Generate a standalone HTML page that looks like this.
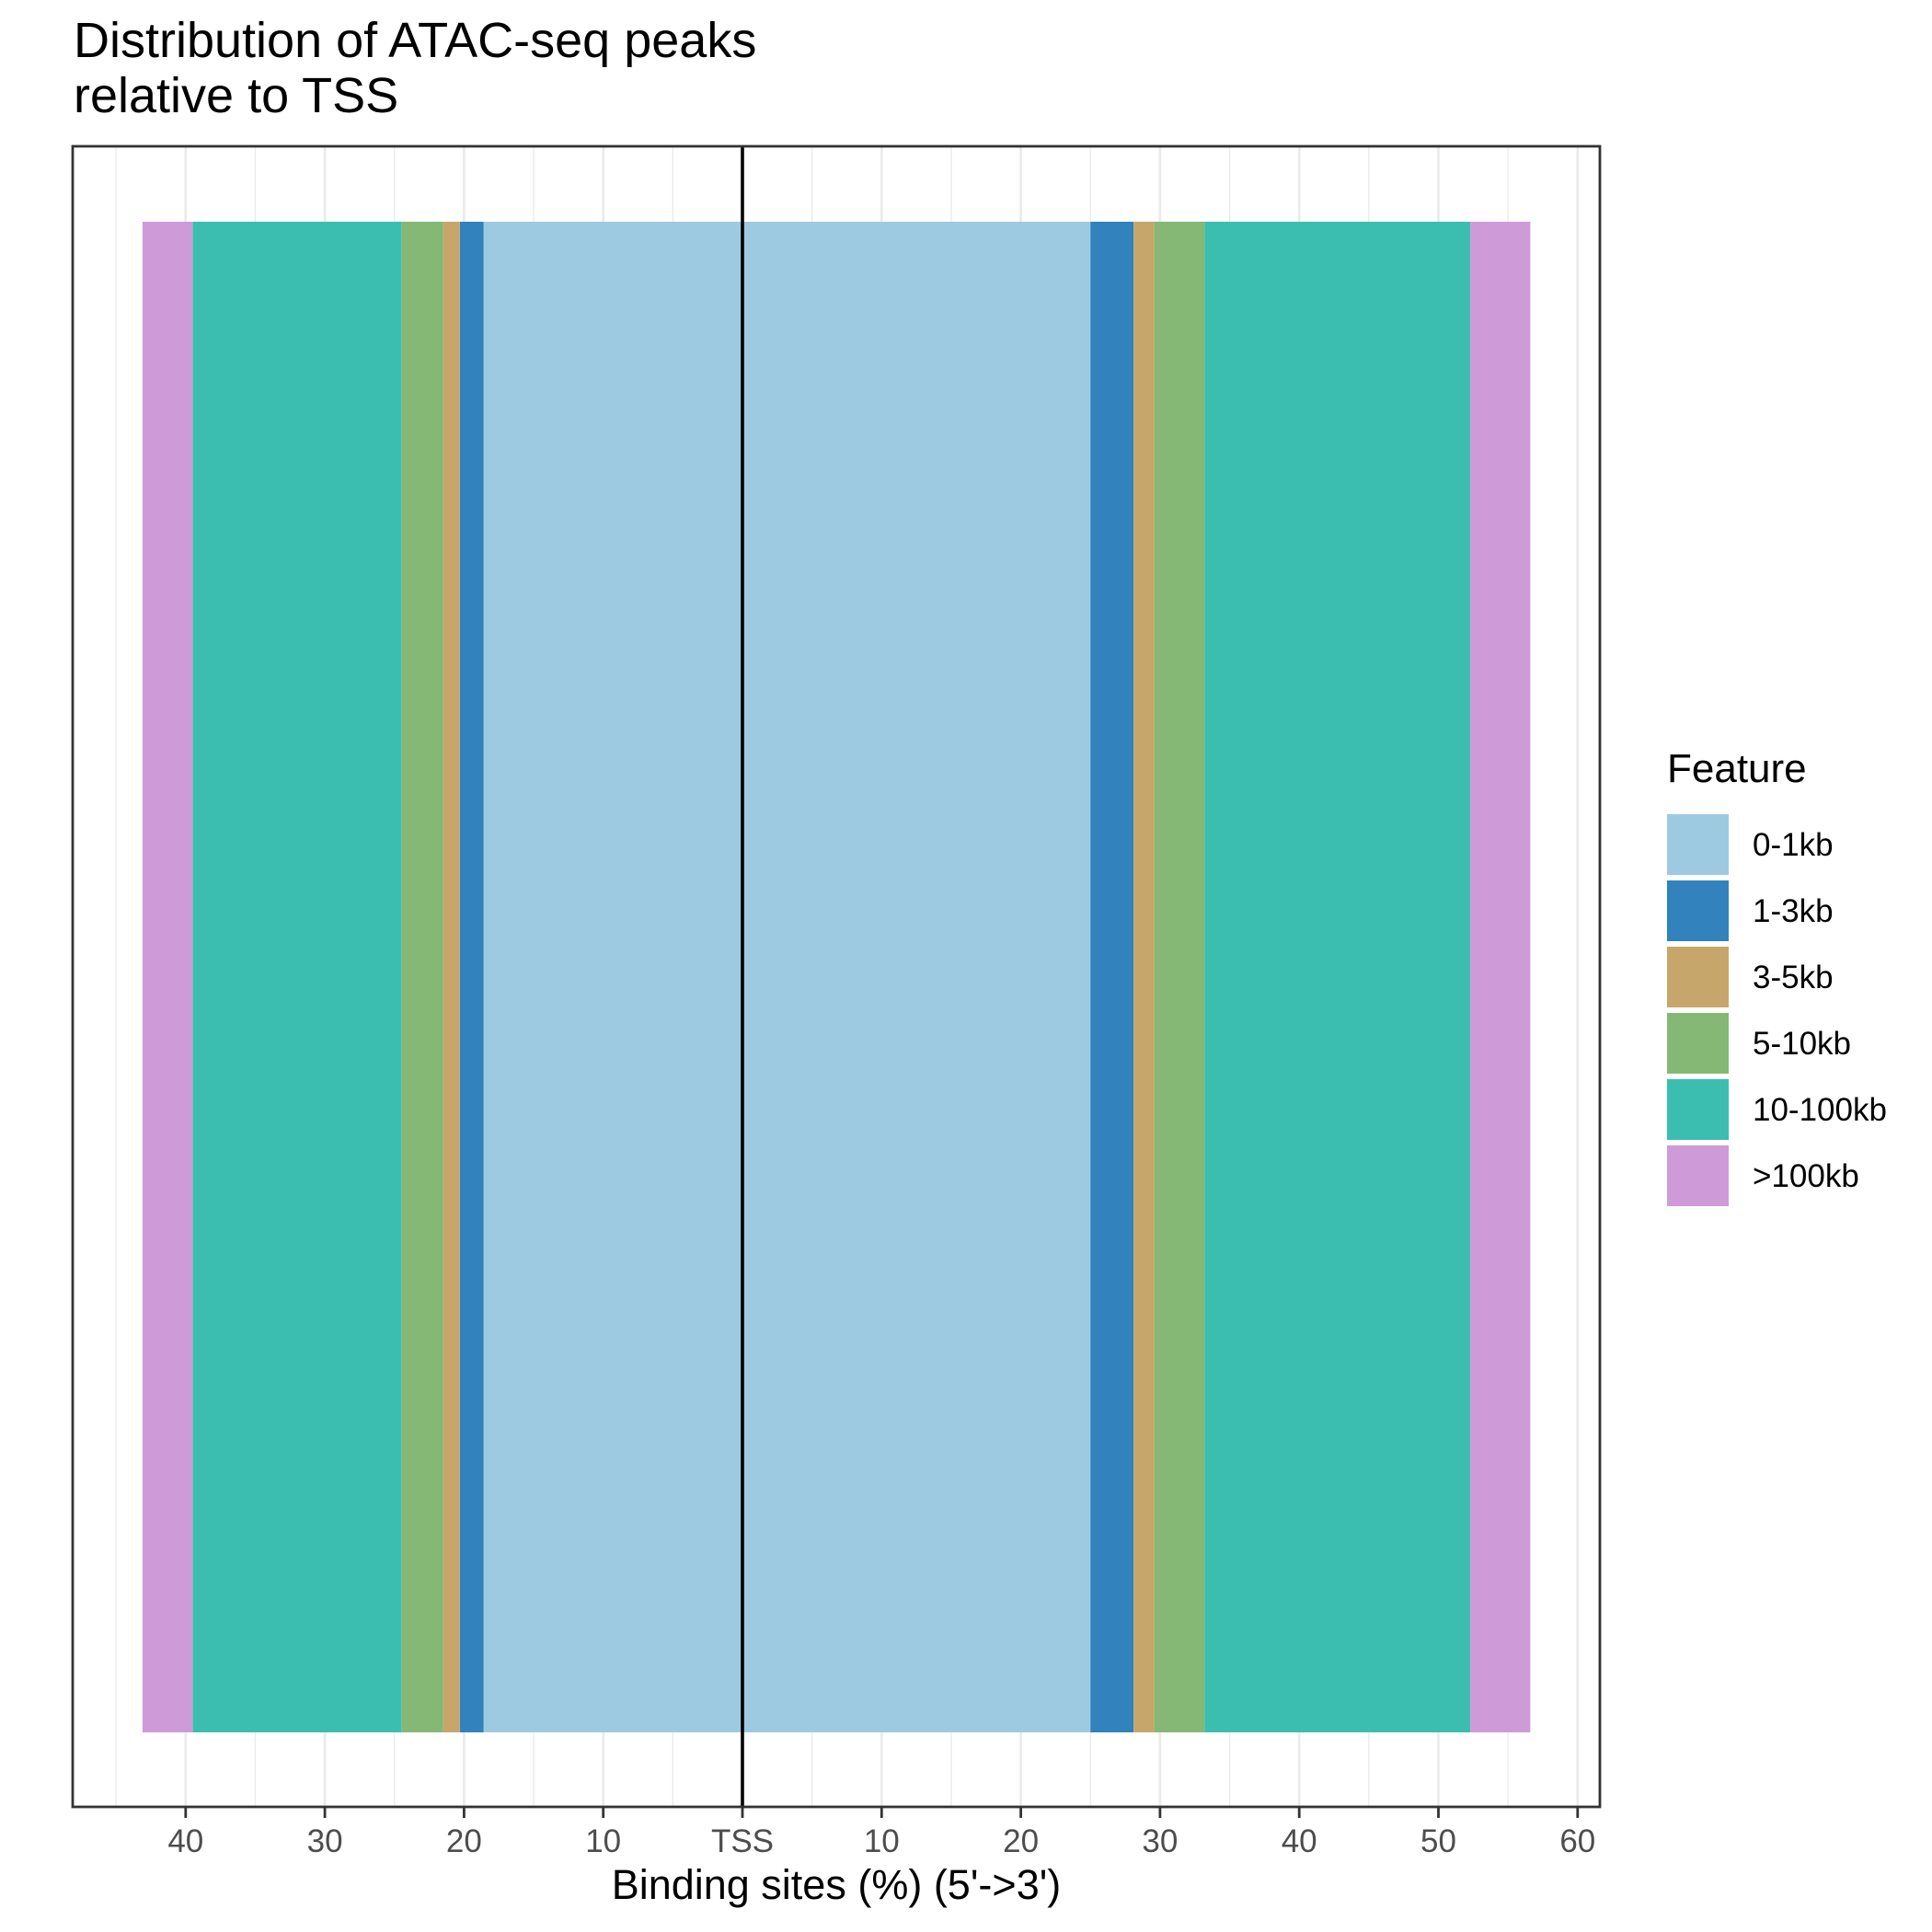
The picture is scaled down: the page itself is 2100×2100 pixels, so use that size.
<!DOCTYPE html>
<html><head><meta charset="utf-8"><style>
html,body{margin:0;padding:0;background:#fff;width:2100px;height:2100px;overflow:hidden}
svg text{font-family:"Liberation Sans",Arial,sans-serif}
</style></head><body>
<svg id="chart" width="2100" height="2100" viewBox="0 0 2100 2100" xmlns="http://www.w3.org/2000/svg">
<rect width="2100" height="2100" fill="#fff"/>
<text x="80" y="62" font-size="54" fill="#000">Distribution of ATAC-seq peaks</text>
<text x="80" y="122" font-size="54" fill="#000">relative to TSS</text>
<g id="grid"></g>
<g id="bars"></g>
<line id="tss" y1="159" y2="1964" stroke="#000" stroke-width="3.6"/>
<rect x="79" y="159" width="1660" height="1805" fill="none" stroke="#333" stroke-width="2.8"/>
<g id="ticks"></g>
<text x="909" y="2064" font-size="45" text-anchor="middle" fill="#000">Binding sites (%) (5'-&gt;3')</text>
<g id="legend"></g>
</svg>
<script>
const categories = ['0-1kb','1-3kb','3-5kb','5-10kb','10-100kb','>100kb'];
const upstreamValues = [18.6, 1.7, 1.2, 3.0, 15.0, 3.6];
const downstreamValues = [25.0, 3.1, 1.5, 3.6, 19.1, 4.3];
const tickValues = [-40,-30,-20,-10,0,10,20,30,40,50,60];
const tickLabels = ['40','30','20','10','TSS','10','20','30','40','50','60'];
const colors = ['#9ecae1','#3182bd','#c6a66a','#85b874','#3bbeb0','#ce9ad8'];

const NS='http://www.w3.org/2000/svg';
const PL=79, PR=1739, PT=159, PB=1964, X0=807, PX=15.13;
function x(v){return X0+v*PX;}
function mk(tag, attrs, parent){const e=document.createElementNS(NS,tag);for(const k in attrs)e.setAttribute(k,attrs[k]);parent.appendChild(e);return e;}
document.getElementById('tss').setAttribute('x1',x(0));
document.getElementById('tss').setAttribute('x2',x(0));
const grid=document.getElementById('grid');
for(let v=-45; v<=62; v+=5){
  const px=x(v); if(px<PL||px>PR) continue;
  const major = v%10===0;
  const l=mk('line',{x1:px,x2:px,y1:PT,y2:PB,stroke:'#ebebeb','stroke-width':major?2.8:1.4},grid);
  
  
}
const bars=document.getElementById('bars');
const yTop=241, yBot=1883;
let cum=0;
upstreamValues.forEach((v,i)=>{
  const a=cum, b=cum+v; cum=b;
  const r=mk('rect',{x:x(-b),y:yTop,width:x(-a)-x(-b),height:yBot-yTop,fill:colors[i]},bars);
  
  
});
cum=0;
downstreamValues.forEach((v,i)=>{
  const a=cum, b=cum+v; cum=b;
  const r=mk('rect',{x:x(a),y:yTop,width:x(b)-x(a),height:yBot-yTop,fill:colors[i]},bars);
  
  
});
const ticks=document.getElementById('ticks');
tickValues.forEach((v,i)=>{
  const t=mk('line',{x1:x(v),x2:x(v),y1:PB,y2:PB+12,stroke:'#333','stroke-width':2.8},ticks);
  
  
  const tx=mk('text',{x:x(v),y:2013,'font-size':35,'text-anchor':'middle',fill:'#4d4d4d'},ticks);
  tx.textContent=tickLabels[i];
  
  
});
const lg=document.getElementById('legend');
const lt=mk('text',{x:1812,y:850,'font-size':44,fill:'#000'},lg);
lt.textContent='Feature';


categories.forEach((c,i)=>{
  const y=885+i*72;
  const k=mk('rect',{x:1812,y:y,width:67,height:66,fill:colors[i]},lg);
  
  
  const t=mk('text',{x:1905,y:y+45,'font-size':35,fill:'#000'},lg);
  t.textContent=c;
  
  
});
</script>
</body></html>
